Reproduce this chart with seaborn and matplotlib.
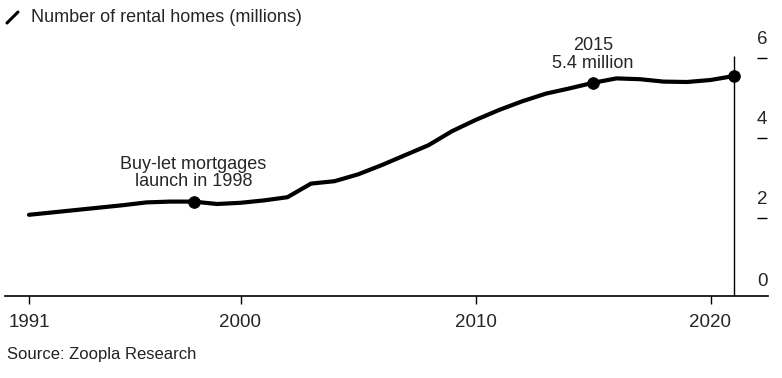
import pandas as pd
import seaborn as sns
import matplotlib.pyplot as plt
from matplotlib.lines import Line2D

# data
years = list(range(1991, 2022))
homes = [2.03, 2.09, 2.15, 2.21, 2.27, 2.34, 2.36, 2.36, 2.30, 2.33,
         2.39, 2.47, 2.81, 2.87, 3.04, 3.27, 3.52, 3.77, 4.12, 4.40,
         4.65, 4.87, 5.06, 5.19, 5.33, 5.44, 5.42, 5.36, 5.35, 5.40, 5.50]
dot_years = [1998, 2015, 2021]
notes = {1998: 'Buy-let mortgages\nlaunch in 1998', 2015: '2015\n5.4 million'}
xticks = [1991, 2000, 2010, 2020]
yticks = [0, 2, 4, 6]

df = pd.DataFrame({'year': years, 'homes': homes})
dots = df[df['year'].isin(dot_years)]

sns.set_style('white')
plt.rcParams['font.family'] = ['Liberation Sans', 'DejaVu Sans']

W, H = 782, 378
fig = plt.figure(figsize=(W / 100, H / 100), dpi=100)
ax = fig.add_axes([5 / W, 1 - 296 / H, 763 / W, 264 / H])

sns.lineplot(data=df, x='year', y='homes', ax=ax, color='black', linewidth=3.0,
             solid_joinstyle='round', solid_capstyle='round')
sns.scatterplot(data=dots, x='year', y='homes', ax=ax, color='black', s=70,
                edgecolor='black', zorder=5)

# vertical marker at the latest year
ax.vlines(years[-1], 0, yticks[-1], color='black', linewidth=1.0)

ax.set_xlim(1991 - 24 / 23.5, 1991 + 739 / 23.5)
ax.set_ylim(0, 6.6)

# x axis
ax.set_xticks(xticks)
ax.set_xticklabels([str(t) for t in xticks], fontsize=13.5)
ax.tick_params(axis='x', direction='out', length=6, width=1, pad=7, color='black', bottom=True)

# y axis on the right, labels sit above the short dashes
ax.set_yticks([])
for v in yticks:
    if v > 0:
        ax.plot([2022.45 - 11 / 23.5, 2022.45 - 1 / 23.5], [v - 0.04, v - 0.04],
                color='black', linewidth=1, solid_capstyle='butt')
    ax.annotate(str(v), xy=(2022.45 - 6 / 23.5, v), xytext=(0, 6 if v > 0 else 4),
                textcoords='offset points', ha='center', va='bottom', fontsize=13.5)

ax.set_xlabel('')
ax.set_ylabel('')
for s in ['top', 'left', 'right']:
    ax.spines[s].set_visible(False)
ax.spines['bottom'].set_color('black')
ax.spines['bottom'].set_linewidth(1.2)

# annotations
for yr, txt in notes.items():
    val = df.loc[df['year'] == yr, 'homes'].iloc[0]
    ax.annotate(txt, xy=(yr, val), xytext=(0, 8), textcoords='offset points',
                ha='center', va='bottom', fontsize=13, linespacing=1.05)

# title with slash icon
fig.add_artist(Line2D([7 / W, 18 / W], [1 - 23 / H, 1 - 12 / H], color='black',
                      linewidth=2.2, transform=fig.transFigure))
fig.text(31 / W, 1 - 18 / H, 'Number of rental homes (millions)', fontsize=13,
         va='center', ha='left')
fig.text(7 / W, 1 - 355 / H, 'Source: Zoopla Research', fontsize=12,
         va='center', ha='left', color='#222222')

fig.savefig('out.png', dpi=100)
